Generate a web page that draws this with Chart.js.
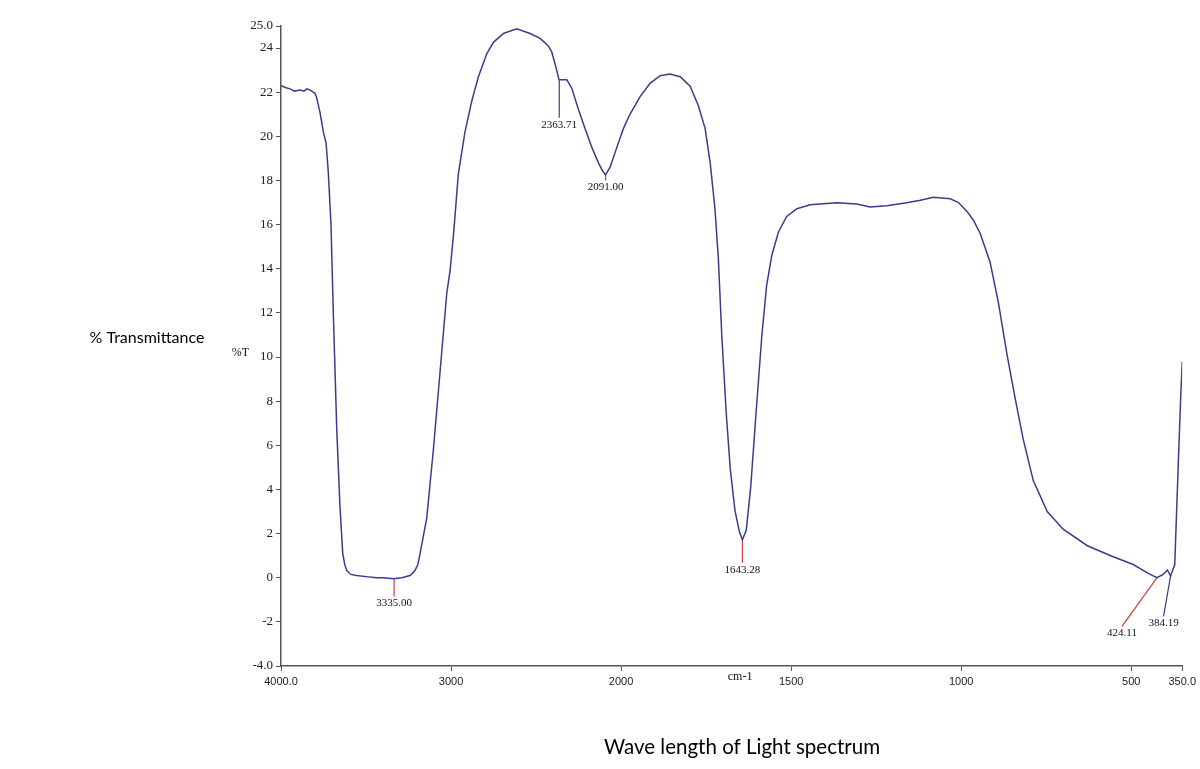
<!DOCTYPE html>
<html>
<head>
<meta charset="utf-8">
<title>FTIR spectrum</title>
<script src="https://cdn.jsdelivr.net/npm/chart.js@4.4.1/dist/chart.umd.min.js"></script>
<style>
    html, body { margin: 0; padding: 0; background: #fff; }
    #chart { display: block; }
</style>
</head>
<body>
<canvas id="chart" width="1200" height="769"></canvas>
<script>
// wavenumber (cm-1) and % transmittance
const waveNumbers = [
    4000, 3996, 3970, 3947, 3920, 3888, 3865, 3849, 3830, 3819, 3800, 3790, 3780, 3771, 3751,
    3735, 3722, 3706, 3692, 3672, 3653, 3637, 3625, 3614, 3590, 3555, 3500, 3437, 3400, 3335,
    3290, 3241, 3212, 3195, 3182, 3143, 3104, 3065, 3025, 3006, 2986, 2957, 2918, 2878, 2839,
    2790, 2751, 2692, 2614, 2535, 2476, 2428, 2408, 2382, 2366, 2363.71, 2319, 2290, 2251, 2212,
    2172, 2133, 2110, 2091, 2065, 2025, 1993, 1974, 1944, 1915, 1885, 1856, 1826, 1797, 1773,
    1753, 1738, 1724, 1714, 1704, 1691, 1679, 1665, 1652, 1643.28, 1632, 1619, 1603, 1586, 1572,
    1557, 1537, 1513, 1483, 1444, 1365, 1307, 1268, 1219, 1160, 1120, 1082, 1032, 1008, 983,
    964, 944, 915, 891, 865, 841, 818, 788, 747, 700, 629, 553, 494, 450, 424.11,
    406, 394, 384.19, 372, 362, 355, 350
];
const transmittance = [
    22.3, 22.3, 22.2, 22.15, 22.05, 22.1, 22.05, 22.15, 22.1, 22.05, 21.95, 21.75, 21.4, 21.1, 20.2,
    19.7, 18.4, 16.0, 11.9, 6.7, 3.2, 1.1, 0.6, 0.33, 0.15, 0.1, 0.05, 0.0, 0.0, -0.05,
    0.0, 0.1, 0.33, 0.6, 1.1, 2.7, 5.8, 9.3, 12.9, 13.9, 15.5, 18.3, 20.2, 21.6, 22.7,
    23.74, 24.26, 24.66, 24.87, 24.66, 24.44, 24.1, 23.83, 23.1, 22.6, 22.56, 22.56, 22.18, 21.23, 20.36,
    19.5, 18.8, 18.45, 18.25, 18.6, 19.5, 20.36, 21.0, 21.8, 22.4, 22.75, 22.82, 22.7, 22.27, 21.4,
    20.36, 18.8, 16.72, 14.46, 11.0, 7.5, 4.93, 3.03, 2.08, 1.72, 2.15, 4.08, 7.5, 11.0, 13.25,
    14.6, 15.68, 16.37, 16.72, 16.9, 16.99, 16.93, 16.8, 16.86, 16.99, 17.1, 17.24, 17.17, 17.0, 16.6,
    16.2, 15.6, 14.3, 12.5, 10.1, 8.1, 6.3, 4.4, 3.0, 2.2, 1.45, 0.95, 0.6, 0.2, 0.0,
    0.15, 0.35, 0.08, 0.6, 5.0, 8.0, 9.8
];

// peak picks: where the marker leaves the curve and where it ends
const peakLabels = ['3335.00', '2363.71', '2091.00', '1643.28', '424.11', '384.19'];
const peakWaves = [3335.00, 2363.71, 2091.00, 1643.28, 424.11, 384.19];
const peakValues = [-0.05, 22.56, 18.25, 1.72, 0.0, 0.08];
const peakEndWaves = [3335.00, 2363.71, 2091.00, 1643.28, 527, 405];
const peakEndValues = [-0.85, 20.84, 18.0, 0.68, -2.2, -1.75];
const peakColors = ['#c8413c', '#3c3c8c', '#c8413c', '#c8413c', '#c8413c', '#3c3c8c'];

const xTickWaves = [4000, 3000, 2000, 1500, 1000, 500, 350];
const xTickLabels = ['4000.0', '3000', '2000', '1500', '1000', '500', '350.0'];
const yTickValues = [25, 24, 22, 20, 18, 16, 14, 12, 10, 8, 6, 4, 2, 0, -2, -4];
const yTickLabels = ['25.0', '24', '22', '20', '18', '16', '14', '12', '10', '8', '6', '4', '2', '0', '-2', '-4.0'];

// the instrument plots 4000-2000 at half the scale of 2000-350
const toAxis = (w) => (w >= 2000 ? 4000 - w : 2000 + 2 * (2000 - w));

const serif = '"Liberation Serif", "DejaVu Serif", serif';
const sans = '"Liberation Sans", Arial, sans-serif';
const lineColor = '#3c3c8c';
const axisColor = '#555';

const textPlugin = {
    id: 'spectrumText',
    afterDraw: (chart) => {
        const { ctx, scales } = chart;
        const xs = scales.x;
        const ys = scales.y;
        ctx.save();

        // peak labels under each marker
        ctx.font = '11px ' + serif;
        ctx.fillStyle = '#111';
        ctx.textAlign = 'center';
        ctx.textBaseline = 'middle';
        peakLabels.forEach((label, i) => {
            const px = xs.getPixelForValue(toAxis(peakEndWaves[i]));
            const py = ys.getPixelForValue(peakEndValues[i]);
            ctx.fillText(label, px, py + 7);
        });

        // unit labels next to the axes
        ctx.font = '12px ' + serif;
        ctx.fillText('cm-1', xs.getPixelForValue(toAxis(1650)), chart.chartArea.bottom + 11);
        ctx.textAlign = 'right';
        ctx.fillText('%T', 249, ys.getPixelForValue(10) - 4);

        // outer titles
        ctx.font = '16px Lato, "Open Sans", sans-serif';
        ctx.fillStyle = '#000';
        ctx.textAlign = 'center';
        ctx.fillText('% Transmittance', 147, 338);
        ctx.font = '20.5px Lato, "Open Sans", sans-serif';
        ctx.fillText('Wave length of Light spectrum', 742, 747);
        ctx.restore();
    }
};

const buildDatasets = () => {
    const sets = [{
        label: '%T',
        data: waveNumbers.map((w, i) => ({ x: toAxis(w), y: transmittance[i] })),
        borderColor: lineColor,
        borderWidth: 1.5,
        pointRadius: 0,
        tension: 0,
        fill: false,
    }];
    peakWaves.forEach((w, i) => {
        sets.push({
            label: peakLabels[i],
            data: [
                { x: toAxis(w), y: peakValues[i] },
                { x: toAxis(peakEndWaves[i]), y: peakEndValues[i] },
            ],
            borderColor: peakColors[i],
            borderWidth: 1.2,
            pointRadius: 0,
            tension: 0,
            fill: false,
        });
    });
    return sets;
};

document.addEventListener('DOMContentLoaded', () => {
    const ctx = document.getElementById('chart').getContext('2d');
    new Chart(ctx, {
        type: 'line',
        data: { datasets: buildDatasets() },
        plugins: [textPlugin],
        options: {
            responsive: false,
            animation: false,
            devicePixelRatio: 1,
            layout: { padding: { left: 0, right: 17, top: 26, bottom: 0 } },
            plugins: {
                legend: { display: false },
                tooltip: { enabled: false },
            },
            scales: {
                x: {
                    type: 'linear',
                    min: 0,
                    max: toAxis(350),
                    afterFit: (scale) => { scale.height = 103; },
                    afterBuildTicks: (scale) => {
                        scale.ticks = xTickWaves.map(w => ({ value: toAxis(w) }));
                    },
                    ticks: {
                        autoSkip: false,
                        maxRotation: 0,
                        padding: 4,
                        color: '#222',
                        font: { family: sans, size: 11 },
                        callback: (value) => {
                            const idx = xTickWaves.findIndex(w => toAxis(w) === value);
                            return idx >= 0 ? xTickLabels[idx] : '';
                        },
                    },
                    grid: { drawOnChartArea: false, drawTicks: true, tickLength: 5, color: axisColor },
                    border: { display: true, color: axisColor, width: 1.5 },
                },
                y: {
                    type: 'linear',
                    min: -4,
                    max: 25,
                    afterFit: (scale) => { scale.width = 281; },
                    afterBuildTicks: (scale) => {
                        scale.ticks = yTickValues.map(v => ({ value: v }));
                    },
                    ticks: {
                        autoSkip: false,
                        padding: 3,
                        color: '#222',
                        font: { family: serif, size: 13 },
                        callback: (value) => {
                            const idx = yTickValues.indexOf(value);
                            return idx >= 0 ? yTickLabels[idx] : '';
                        },
                    },
                    grid: { drawOnChartArea: false, drawTicks: true, tickLength: 5, color: axisColor },
                    border: { display: true, color: axisColor, width: 1.5 },
                },
            },
        },
    });
});
</script>
</body>
</html>
